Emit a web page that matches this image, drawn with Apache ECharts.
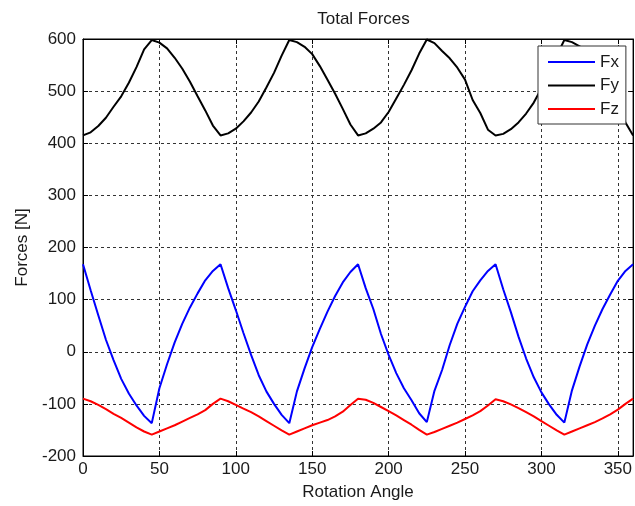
<!DOCTYPE html>
<html>
<head>
<meta charset="utf-8">
<script src="https://cdn.jsdelivr.net/npm/echarts@6/dist/echarts.min.js"></script>
<style>
  html, body { margin: 0; padding: 0; background: #fff; }
  #chart { width: 635px; height: 506px; }
</style>
</head>
<body>
<div id="chart"></div>
<script>
// Rotation angle samples (degrees)
const angles = [
  0, 5, 10, 15, 20, 25, 30, 35, 40, 45, 50, 55, 60, 65, 70, 75, 80, 85, 90,
  95, 100, 105, 110, 115, 120, 125, 130, 135, 140, 145, 150, 155, 160, 165, 170, 175, 180,
  185, 190, 195, 200, 205, 210, 215, 220, 225, 230, 235, 240, 245, 250, 255, 260, 265, 270,
  275, 280, 285, 290, 295, 300, 305, 310, 315, 320, 325, 330, 335, 340, 345, 350, 355, 360
];

// Force components [N]
const fx = [
  168, 118, 70, 23, -16, -52, -80, -103, -123, -137, -70, -24, 18, 54, 85, 112, 137, 155, 168,
  122, 80, 36, -6, -45, -76, -100, -121, -137, -76, -32, 9, 44, 77, 107, 133, 153, 168,
  122, 82, 34, -6, -41, -70, -93, -118, -135, -75, -35, 13, 54, 86, 116, 137, 155, 168,
  120, 76, 29, -13, -49, -78, -101, -121, -136, -74, -28, 14, 50, 82, 110, 136, 155, 168
];
const fy = [
  415, 421, 433, 449, 470, 490, 516, 546, 580, 598, 593, 582, 564, 543, 518, 490, 463, 434, 415,
  419, 428, 442, 459, 480, 507, 535, 568, 598, 594, 585, 571, 548, 522, 495, 466, 436, 415,
  419, 428, 440, 460, 486, 512, 540, 572, 599, 592, 577, 563, 545, 522, 483, 458, 426, 415,
  418, 427, 440, 457, 478, 505, 535, 568, 598, 594, 586, 571, 550, 524, 496, 466, 440, 415
];
const fz = [
  -90, -95, -102, -110, -119, -127, -136, -145, -153, -159, -153, -147, -141, -134, -127, -120, -112, -100, -90,
  -95, -102, -109, -116, -124, -133, -142, -151, -159, -153, -147, -141, -136, -131, -124, -115, -102, -90,
  -92, -98, -106, -114, -122, -131, -140, -150, -159, -154, -148, -142, -136, -129, -122, -114, -103, -91,
  -95, -101, -108, -116, -124, -133, -142, -151, -159, -153, -147, -141, -135, -128, -120, -111, -100, -90
];

const seriesNames = ['Fx', 'Fy', 'Fz'];
const seriesColors = ['#0000ff', '#000000', '#ff0000'];
const seriesValues = [fx, fy, fz];

const FONT = 'Liberation Sans, Arial, sans-serif';
const TEXT = '#1a1a1a';

const pairs = vals => angles.map((a, i) => [a, vals[i]]);

const gridLine = { show: true, lineStyle: { color: '#333', width: 1, type: [3, 3] } };
const tickStyle = { show: true, inside: true, length: 5, lineStyle: { color: '#000', width: 1 } };
const lineStyleAxis = { show: true, onZero: false, lineStyle: { color: '#000', width: 1 } };

const chart = echarts.init(document.getElementById('chart'), null, { renderer: 'canvas' });

chart.setOption({
  animation: false,
  backgroundColor: '#fff',
  title: {
    text: 'Total Forces',
    left: 358.5,
    textAlign: 'center',
    top: 6,
    textStyle: { fontFamily: FONT, fontSize: 17, fontWeight: 'normal', color: TEXT }
  },
  grid: {
    left: 83, right: 1, top: 39, bottom: 50,
    show: true, borderColor: '#000', borderWidth: 1, backgroundColor: '#fff'
  },
  legend: {
    data: seriesNames,
    orient: 'vertical',
    left: 538,
    top: 46,
    padding: [7, 7, 6, 10],
    itemGap: 5.5,
    itemWidth: 47,
    itemHeight: 2,
    icon: 'rect',
    backgroundColor: '#fff',
    borderColor: '#333',
    borderWidth: 1,
    borderRadius: 0,
    textStyle: { fontFamily: FONT, fontSize: 17, lineHeight: 18, color: TEXT }
  },
  xAxis: [
    {
      type: 'value', min: 0, max: 360, interval: 50,
      name: 'Rotation Angle', nameLocation: 'middle', nameGap: 28,
      nameTextStyle: { fontFamily: FONT, fontSize: 17, color: TEXT },
      axisLine: lineStyleAxis,
      axisTick: tickStyle,
      splitLine: gridLine,
      axisLabel: {
        fontFamily: FONT, fontSize: 17, color: TEXT, margin: 5,
        showMaxLabel: false
      }
    },
    {
      type: 'value', min: 0, max: 360, interval: 50, position: 'top',
      axisLine: lineStyleAxis, axisTick: tickStyle,
      axisLabel: { show: false }, splitLine: { show: false }
    }
  ],
  yAxis: [
    {
      type: 'value', min: -200, max: 600, interval: 100,
      name: 'Forces [N]', nameLocation: 'middle', nameGap: 52,
      nameTextStyle: { fontFamily: FONT, fontSize: 17, color: TEXT },
      axisLine: lineStyleAxis,
      axisTick: tickStyle,
      splitLine: gridLine,
      axisLabel: { fontFamily: FONT, fontSize: 17, color: TEXT, margin: 7 }
    },
    {
      type: 'value', min: -200, max: 600, interval: 100, position: 'right',
      axisLine: lineStyleAxis, axisTick: tickStyle,
      axisLabel: { show: false }, splitLine: { show: false }
    }
  ],
  series: seriesNames.map((name, k) => ({
    name,
    type: 'line',
    xAxisIndex: 0,
    yAxisIndex: 0,
    data: pairs(seriesValues[k]),
    showSymbol: false,
    symbol: 'none',
    color: seriesColors[k],
    lineStyle: { color: seriesColors[k], width: 2 },
    z: 3
  }))
});
</script>
</body>
</html>
